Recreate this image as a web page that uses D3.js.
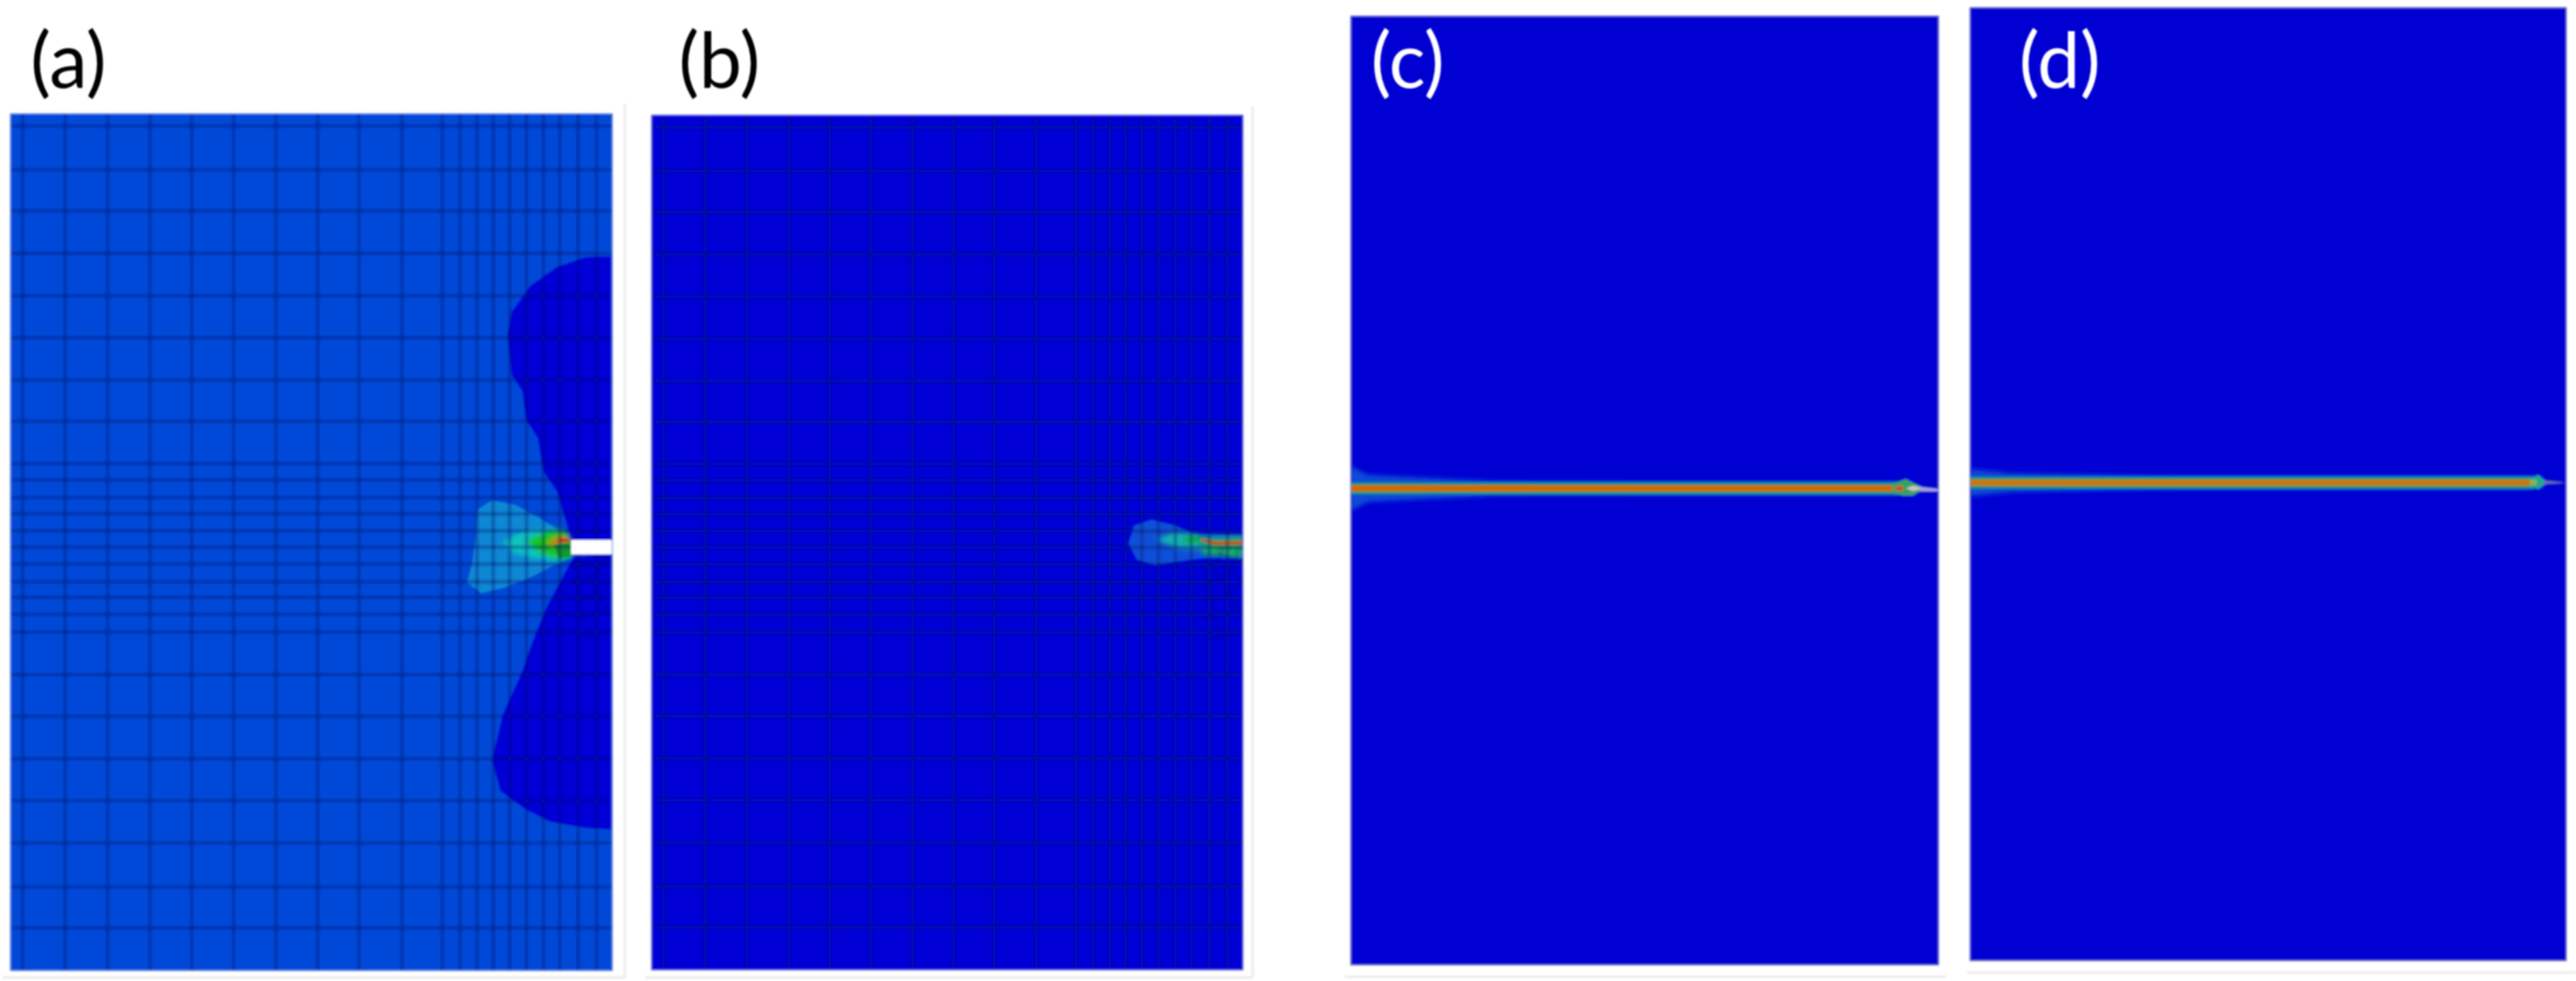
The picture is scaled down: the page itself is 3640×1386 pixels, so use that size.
<!DOCTYPE html>
<html>
  <head>
    <meta charset="utf-8">
    <title>Contour plots (a) to (d)</title>
    <script src="https://d3js.org/d3.v7.min.js"></script>
    <style>
      html, body { margin: 0; padding: 0; background: #fff; }
      svg { display: block; }
      text { font-family: Lato, "Open Sans", sans-serif; font-size: 108px; }
    </style>
  </head>
  <body>
    <svg id="chart" width="3640" height="1386"></svg>
    <script>
      // mesh lines of the coarse models, in element units (852 x 1212)
      meshCols = [18, 78, 138, 198, 257, 316, 376, 435, 493, 554, 611, 636, 660, 683, 706, 730, 754, 777, 803, 829];
      meshRows = [18, 80, 138, 198, 258, 317, 377, 435, 495, 518, 543, 566, 590, 613, 637, 662, 684, 708, 733, 793, 852, 912, 971, 1031, 1093, 1151];
      tipPoint = [793, 613];
      tipRings = [28, 50, 75, 100, 130];
      tipSpokes = [0, 20, 40, 60, 80, 100, 120, 140, 160, 180, 200, 220, 240, 260, 280, 300, 320, 340];

      // contour regions of (a)
      aDarkUpper = [[852,202],[813,203],[773,217],[736,243],[709,280],[703,313],[709,370],[724,393],[729,433],[746,460],[753,505],[773,535],[793,603],[852,603]];
      aDarkLower = [[852,1012],[813,1010],[763,1001],[729,984],[693,958],[681,914],[696,850],[723,790],[743,734],[759,696],[789,640],[796,627],[852,623]];
      aCyan = [[681,547],[661,560],[658,600],[653,637],[646,663],[666,678],[699,670],[733,657],[766,640],[796,627],[789,603],[776,590],[746,570],[713,553]];
      aTeal = [[696,606],[725,590],[770,586],[790,596],[793,627],[770,633],[736,628],[710,620]];
      aGreen = [[730,604],[758,591],[782,588],[793,603],[793,627],[770,628],[745,620]];
      aDeepGreen = [[768,610],[793,605],[793,627],[776,629]];
      aOrange = [[758,607],[775,598],[790,599],[793,606],[772,612]];
      aRed = [[775,600],[790,602],[790,606],[778,606]];
      aNotch = [[793,603],[852,603],[852,623],[793,623]];

      // contour regions of (b)
      bBlob = [[687,607],[695,582],[720,574],[753,582],[781,594],[852,596],[852,628],[794,628],[753,633],[726,638],[699,630]];
      bTeal = [[726,602],[750,592],[787,594],[791,616],[756,614]];
      bTailTeal = [[791,598],[852,596],[852,628],[791,622]];
      bTailGreen = [[795,610],[852,610],[852,626],[795,622]];
      bGreen = [[764,600],[789,595],[791,606],[766,606]];
      bOrange = [[791,600],[811,604],[852,603],[852,609],[811,610],[791,604]];

      // band half widths along the ligament of (c) and (d)
      cBandX = [0, 25, 105, 205, 400, 775];
      cWashHalf = [32, 19, 15, 10, 9, 9];
      cCenter = 668;
      dBandX = [0, 60, 170, 300, 500, 797];
      dWashHalf = [19, 13, 11, 9, 9, 9];
      dCenter = 672;
      bandTealHalf = 9;
      bandGreenHalf = 6.5;
      bandOrangeHalf = 4.2;

      // crack tips of (c) and (d)
      cTipGreen = [[765,662],[785,655],[795,660],[812,668],[795,678],[780,678],[768,675]];
      cTipGrey = [[785,668],[795,664],[812,668],[795,672]];
      cTipTail = [[805,666],[832,669],[832,672],[805,672]];
      cTipRed = [[771,665],[781,665],[781,671],[771,671]];
      dTipGreen = [[792,666],[804,661],[812,668],[820,671],[812,675],[804,681],[792,678]];
      dTipYellow = [[792,668],[801,668],[801,675],[792,675]];
      dTipTail = [[812,669],[844,672],[812,674]];

      panelLabels = ["(a)", "(b)", "(c)", "(d)"];

      // page layout
      panels = [
        { id: "a", left: 14, top: 160, right: 866, bottom: 1372, w: 852, h: 1212, fill: "#034ad8", edge: "#6f93e6", mesh: 0.4, labelX: 43, labelFill: "#000" },
        { id: "b", left: 920, top: 162, right: 1757, bottom: 1371, w: 852, h: 1212, fill: "#0000d6", edge: "#6a6ae0", mesh: 0.42, labelX: 959, labelFill: "#000" },
        { id: "c", left: 1908, top: 22, right: 2740, bottom: 1364, w: 832, h: 1342, fill: "#0000d2", edge: "#7777c8", labelX: 1937, labelFill: "#fff" },
        { id: "d", left: 2783, top: 10, right: 3627, bottom: 1358, w: 844, h: 1348, fill: "#0000d2", edge: "#7777c8", labelX: 2853, labelFill: "#fff" }
      ];
      frames = [
        { x1: 883, y1: 147, x2: 883, y2: 1381 },
        { x1: 4, y1: 1381, x2: 883, y2: 1381 },
        { x1: 1770, y1: 150, x2: 1770, y2: 1381 },
        { x1: 912, y1: 1381, x2: 1770, y2: 1381 },
        { x1: 1900, y1: 1380, x2: 2750, y2: 1380 },
        { x1: 2780, y1: 1374, x2: 3640, y2: 1374 }
      ];

      svg = d3.select("#chart");
      defs = svg.append("defs");

      function blur(id, amount) {
        f = defs.append("filter")
          .attr("id", id)
          .attr("filterUnits", "userSpaceOnUse")
          .attr("x", 0).attr("y", 0)
          .attr("width", 3640).attr("height", 1386);
        f.append("feGaussianBlur").attr("stdDeviation", amount);
      }
      blur("soften", 1.7);
      blur("softMesh", 1.5);
      blur("softHeat", 3);
      blur("softWash", 3);
      blur("softText", 0.8);

      // faint picture frames
      svg.append("g").attr("filter", "url(#soften)")
        .selectAll("line").data(frames).join("line")
          .attr("x1", d => d.x1).attr("y1", d => d.y1)
          .attr("x2", d => d.x2).attr("y2", d => d.y2)
          .attr("stroke", "#e8e8e8")
          .attr("stroke-width", 3);

      // one scale pair per panel
      panels.forEach(function(p) {
        p.x = d3.scaleLinear().domain([0, p.w]).range([p.left, p.right]);
        p.y = d3.scaleLinear().domain([0, p.h]).range([p.top, p.bottom]);
        p.poly = d3.line().x(d => p.x(d[0])).y(d => p.y(d[1])).curve(d3.curveLinearClosed);
        defs.append("clipPath").attr("id", "clip-" + p.id)
          .append("rect")
            .attr("x", p.left).attr("y", p.top)
            .attr("width", p.right - p.left).attr("height", p.bottom - p.top);
        p.g = svg.append("g").attr("filter", "url(#soften)")
          .append("g").attr("clip-path", "url(#clip-" + p.id + ")");
        p.g.append("rect")
          .attr("x", p.left).attr("y", p.top)
          .attr("width", p.right - p.left).attr("height", p.bottom - p.top)
          .attr("fill", p.fill);
      });

      function region(target, p, points, colour) {
        target.append("path").attr("d", p.poly(points)).attr("fill", colour);
      }

      function mesh(p) {
        m = p.g.append("g")
          .attr("filter", "url(#softMesh)")
          .attr("stroke", "#001060")
          .attr("stroke-opacity", p.mesh);
        m.selectAll(".col").data(meshCols).join("line")
          .attr("class", "col")
          .attr("x1", d => p.x(d)).attr("x2", d => p.x(d))
          .attr("y1", p.top).attr("y2", p.bottom)
          .attr("stroke-width", 4);
        m.selectAll(".row").data(meshRows).join("line")
          .attr("class", "row")
          .attr("y1", d => p.y(d)).attr("y2", d => p.y(d))
          .attr("x1", p.left).attr("x2", p.right)
          .attr("stroke-width", 4);
        // finer mesh round the crack tip
        tip = p.g.append("g")
          .attr("filter", "url(#softMesh)")
          .attr("transform", "translate(" + p.x(tipPoint[0]) + "," + p.y(tipPoint[1]) + ")")
          .attr("fill", "none")
          .attr("stroke", "#001060")
          .attr("stroke-opacity", p.mesh * 0.6)
          .attr("stroke-width", 3);
        tip.selectAll("circle").data(tipRings).join("circle").attr("r", d => d);
        tip.selectAll("line").data(tipSpokes).join("line")
          .attr("x1", d => 20 * Math.cos(d * Math.PI / 180))
          .attr("y1", d => 20 * Math.sin(d * Math.PI / 180))
          .attr("x2", d => d3.max(tipRings) * Math.cos(d * Math.PI / 180))
          .attr("y2", d => d3.max(tipRings) * Math.sin(d * Math.PI / 180));
      }

      function band(p, xs, washHalf, center, xEnd, colours) {
        area = d3.area()
          .x(d => p.x(d[0]))
          .y0(d => p.y(center - d[1]))
          .y1(d => p.y(center + d[1]));
        p.g.append("path")
          .attr("d", area(d3.zip(xs, washHalf)))
          .attr("filter", "url(#softWash)")
          .attr("fill", colours[0]);
        [[bandTealHalf, colours[1]], [bandGreenHalf, colours[2]], [bandOrangeHalf, colours[3]]].forEach(function(level) {
          p.g.append("path")
            .attr("d", area([[0, level[0]], [xEnd, level[0]]]))
            .attr("fill", level[1]);
        });
      }

      // (a)
      a = panels[0];
      region(a.g, a, aDarkUpper, "#0000d6");
      region(a.g, a, aDarkLower, "#0000d6");
      region(a.g, a, aCyan, "#0a88d4");
      aHeat = a.g.append("g").attr("filter", "url(#softHeat)");
      region(aHeat, a, aTeal, "#10c4c0");
      region(aHeat, a, aGreen, "#14c41c");
      region(a.g, a, aDeepGreen, "#0f9c2c");
      region(aHeat, a, aOrange, "#c87a18");
      region(a.g, a, aRed, "#d03a28");
      mesh(a);
      region(a.g, a, aNotch, "#ffffff");

      // (b)
      b = panels[1];
      region(b.g, b, bBlob, "#0c50d8");
      bHeat = b.g.append("g").attr("filter", "url(#softHeat)");
      region(bHeat, b, bTeal, "#14b0b0");
      region(bHeat, b, bTailTeal, "#1a9e88");
      region(bHeat, b, bTailGreen, "#16b060");
      region(bHeat, b, bGreen, "#10b028");
      region(b.g, b, bOrange, "#b5651d");
      mesh(b);

      // (c)
      c = panels[2];
      band(c, cBandX, cWashHalf, cCenter, 775, ["#0a4cd8", "#0a82a8", "#3c9a60", "#cf6a00"]);
      region(c.g, c, cTipGreen, "#3ca060");
      region(c.g, c, cTipRed, "#d84020");
      region(c.g, c, cTipGrey, "#c4c4c0");
      region(c.g, c, cTipTail, "#a4a4dc");

      // (d)
      d = panels[3];
      band(d, dBandX, dWashHalf, dCenter, 797, ["#0a4cd8", "#0a82a8", "#3c9a60", "#c87808"]);
      region(d.g, d, dTipGreen, "#20a890");
      region(d.g, d, dTipYellow, "#90b040");
      region(d.g, d, dTipTail, "#6a6ab8");

      // panel edges
      panels.forEach(function(p) {
        p.g.append("rect")
          .attr("x", p.left).attr("y", p.top)
          .attr("width", p.right - p.left).attr("height", p.bottom - p.top)
          .attr("fill", "none")
          .attr("stroke", p.edge)
          .attr("stroke-width", 3);
      });

      // labels
      svg.append("g").selectAll("text").data(panels).join("text")
        .attr("x", d => d.labelX)
        .attr("y", 124)
        .attr("fill", d => d.labelFill)
        .attr("filter", "url(#softText)")
        .text((d, i) => panelLabels[i]);
    </script>
  </body>
</html>
